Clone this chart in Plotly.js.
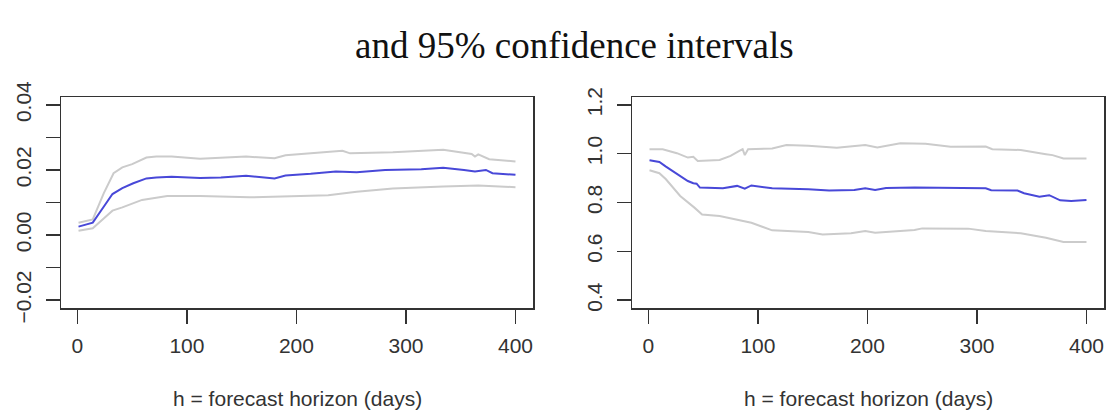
<!DOCTYPE html>
<html>
<head>
<meta charset="utf-8">
<script src="https://cdn.plot.ly/plotly-3.0.1.min.js"></script>
<style>
  html, body { margin: 0; padding: 0; background: #fff; }
  #chart { width: 1117px; height: 417px; }
</style>
</head>
<body>
<div id="chart"></div>
<script>
// Left panel: estimate and 95% band against forecast horizon h
const hLeftMean  = [1, 14, 24, 32, 41, 51, 63, 72, 86, 112, 131, 154, 180, 190, 213, 236, 255, 281, 314, 334, 353, 363, 373, 379, 400];
const leftMean   = [0.0026, 0.0038, 0.0087, 0.0126, 0.0144, 0.0159, 0.0174, 0.0177, 0.0179, 0.0175, 0.0177, 0.0182, 0.0174, 0.0183, 0.0188, 0.0195, 0.0193, 0.0200, 0.0202, 0.0207, 0.0200, 0.0195, 0.0200, 0.0190, 0.0185];

const hLeftUpper = [1, 14, 24, 33, 41, 50, 63, 72, 86, 112, 154, 180, 190, 236, 242, 249, 288, 334, 360, 363, 366, 376, 400];
const leftUpper  = [0.0038, 0.0048, 0.0128, 0.0190, 0.0208, 0.0218, 0.0238, 0.0241, 0.0241, 0.0234, 0.0241, 0.0236, 0.0245, 0.0256, 0.0259, 0.0251, 0.0254, 0.0262, 0.0249, 0.0241, 0.0248, 0.0233, 0.0226];

const hLeftLower = [1, 14, 24, 32, 41, 59, 82, 112, 157, 203, 229, 255, 288, 334, 366, 400];
const leftLower  = [0.0013, 0.0021, 0.0051, 0.0075, 0.0085, 0.0108, 0.0120, 0.0120, 0.0116, 0.0120, 0.0122, 0.0133, 0.0143, 0.0149, 0.0152, 0.0147];

// Right panel
const hRightMean  = [1, 10, 16, 26, 36, 41, 44, 47, 68, 81, 88, 94, 113, 146, 165, 188, 198, 207, 217, 243, 276, 308, 313, 337, 343, 357, 366, 376, 386, 400];
const rightMean   = [0.973, 0.966, 0.947, 0.916, 0.888, 0.879, 0.877, 0.861, 0.858, 0.868, 0.857, 0.870, 0.858, 0.854, 0.849, 0.851, 0.858, 0.851, 0.859, 0.861, 0.861, 0.858, 0.850, 0.849, 0.838, 0.824, 0.830, 0.809, 0.806, 0.810];

const hRightUpper = [1, 13, 26, 36, 41, 45, 65, 75, 83, 86, 88, 91, 113, 126, 146, 172, 198, 209, 230, 253, 276, 308, 314, 340, 363, 369, 379, 400];
const rightUpper  = [1.018, 1.018, 1.002, 0.984, 0.987, 0.970, 0.974, 0.991, 1.011, 1.018, 0.994, 1.018, 1.021, 1.035, 1.032, 1.024, 1.035, 1.025, 1.043, 1.041, 1.028, 1.029, 1.018, 1.015, 0.998, 0.994, 0.980, 0.980];

const hRightLower = [1, 10, 16, 29, 42, 49, 65, 81, 94, 113, 146, 159, 185, 198, 207, 243, 250, 292, 308, 340, 363, 379, 400];
const rightLower  = [0.932, 0.920, 0.895, 0.827, 0.779, 0.751, 0.745, 0.731, 0.717, 0.686, 0.679, 0.669, 0.674, 0.683, 0.676, 0.687, 0.694, 0.693, 0.683, 0.674, 0.656, 0.638, 0.638];

const xTicks = [0, 100, 200, 300, 400];
const leftTicks = [-0.02, 0.00, 0.02, 0.04];
const leftTickText = ['\u22120.02', '0.00', '0.02', '0.04'];
const leftMinorTicks = [-0.02, -0.01, 0.00, 0.01, 0.02, 0.03, 0.04];
const rightTicks = [0.4, 0.6, 0.8, 1.0, 1.2];
const rightTickText = ['0.4', '0.6', '0.8', '1.0', '1.2'];

const xLabel = 'h = forecast horizon (days)';
const titleText = 'and 95% confidence intervals';

const W = 1117, H = 417;
const BLUE = '#4848d8';
const GREY = '#cbcbcb';
const AXIS = '#333333';
const tickFont = { family: '"Liberation Sans Narrow", "Liberation Sans", Arial, sans-serif', size: 21, color: '#333' };

function line(x, y, color, xa, ya) {
  return { x: x, y: y, type: 'scatter', mode: 'lines', xaxis: xa, yaxis: ya,
           line: { color: color, width: 2 }, hoverinfo: 'skip', showlegend: false };
}

const traces = [
  line(hLeftUpper, leftUpper, GREY, 'x', 'y'),
  line(hLeftLower, leftLower, GREY, 'x', 'y'),
  line(hLeftMean, leftMean, BLUE, 'x', 'y'),
  line(hRightUpper, rightUpper, GREY, 'x2', 'y2'),
  line(hRightLower, rightLower, GREY, 'x2', 'y2'),
  line(hRightMean, rightMean, BLUE, 'x2', 'y2')
];

const yDom = [1 - 308 / H, 1 - 97 / H];

function xAxis(dom, anchor) {
  return {
    domain: dom, anchor: anchor, range: [-15, 416],
    tickmode: 'array', tickvals: xTicks, ticktext: xTicks.map(String),
    ticks: 'outside', ticklen: 14, tickwidth: 1.5, tickcolor: AXIS,
    showline: true, linecolor: AXIS, linewidth: 1.5, mirror: true,
    showgrid: false, zeroline: false, tickfont: tickFont, ticklabelstandoff: 4
  };
}

function yAxis(anchor, range, vals, text) {
  return {
    domain: yDom, anchor: anchor, range: range,
    tickmode: 'array', tickvals: vals, ticktext: text, tickangle: -90,
    ticks: 'outside', ticklen: 14, tickwidth: 1.5, tickcolor: AXIS,
    showline: true, linecolor: AXIS, linewidth: 1.5, mirror: true,
    showgrid: false, zeroline: false, tickfont: tickFont, ticklabelstandoff: 6
  };
}

const layout = {
  width: W, height: H,
  margin: { l: 0, r: 0, t: 0, b: 0 },
  paper_bgcolor: '#fff', plot_bgcolor: '#fff',
  showlegend: false,
  xaxis: xAxis([61 / W, 533 / W], 'y'),
  yaxis: Object.assign(yAxis('x', [-0.0224, 0.0424], leftMinorTicks,
           leftMinorTicks.map(v => { const i = leftTicks.indexOf(v); return i >= 0 ? leftTickText[i] : ''; }))),
  xaxis2: xAxis([632 / W, 1104 / W], 'y2'),
  yaxis2: Object.assign(yAxis('x2', [0.368, 1.232], rightTicks, rightTickText)),
  annotations: [
    { text: titleText, xref: 'paper', yref: 'paper', x: 574 / W, y: 1 - 45 / H,
      xanchor: 'center', yanchor: 'middle', showarrow: false,
      font: { family: '"Liberation Serif", "DejaVu Serif", serif', size: 37, color: '#111' } },
    { text: xLabel, xref: 'paper', yref: 'paper', x: 297 / W, y: 1 - 398 / H,
      xanchor: 'center', yanchor: 'middle', showarrow: false, font: tickFont },
    { text: xLabel, xref: 'paper', yref: 'paper', x: 868 / W, y: 1 - 398 / H,
      xanchor: 'center', yanchor: 'middle', showarrow: false, font: tickFont }
  ]
};

Plotly.newPlot('chart', traces, layout, { staticPlot: true, displayModeBar: false });
</script>
</body>
</html>
